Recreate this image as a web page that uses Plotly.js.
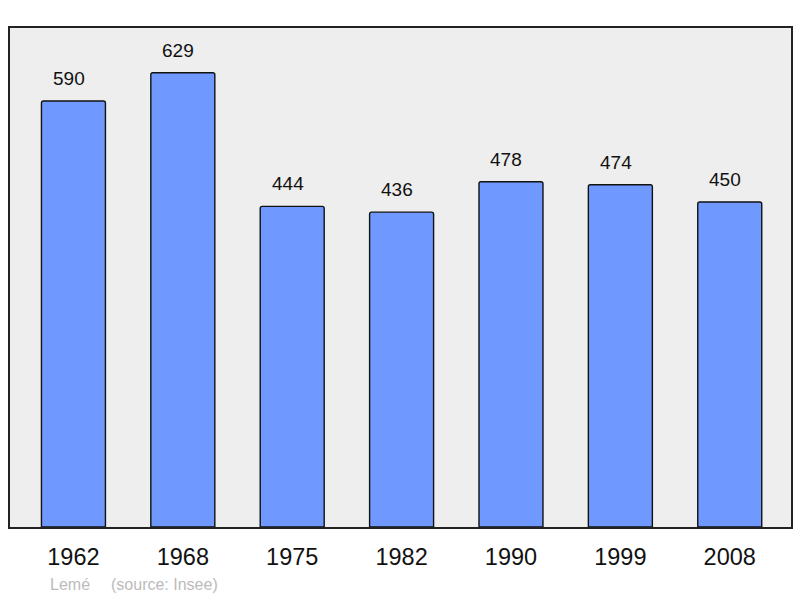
<!DOCTYPE html>
<html>
<head>
<meta charset="utf-8">
<script src="https://cdn.plot.ly/plotly-3.0.1.min.js"></script>
<style>html,body{margin:0;padding:0;background:#fff;}#chart{width:800px;height:598px;}</style>
</head>
<body>
<div id="chart"></div>
<script>
const years = ["1962", "1968", "1975", "1982", "1990", "1999", "2008"];
const population = [590, 629, 444, 436, 478, 474, 450];
const sourceCommune = "Lemé";
const sourceNote = "(source: Insee)";

const trace = {
  type: "bar",
  x: years,
  y: population,
  width: 0.585,
  text: population.map(String),
  textposition: "none",
  marker: { color: "#7099ff", line: { color: "#111111", width: 1.4 }, cornerradius: 2 },
  hoverinfo: "skip"
};

const FONT = "Liberation Sans, Arial, sans-serif";
const annotations = years.map((yr, i) => ({
  x: i, y: population[i], xref: "x", yref: "y",
  text: String(population[i]), showarrow: false,
  yanchor: "bottom", yshift: 10, xshift: -4.5,
  font: { family: FONT, size: 19, color: "#111" }
}));
annotations.push({
  xref: "paper", yref: "paper", x: (48 - 10) / 781, y: -0.095,
  xanchor: "left", yanchor: "top", showarrow: false,
  text: sourceCommune,
  font: { family: FONT, size: 16, color: "#bbbbbb" }
});
annotations.push({
  xref: "paper", yref: "paper", x: (109 - 10) / 781, y: -0.095,
  xanchor: "left", yanchor: "top", showarrow: false,
  text: sourceNote,
  font: { family: FONT, size: 16, color: "#bbbbbb" }
});

const layout = {
  width: 800, height: 598,
  margin: { l: 10, r: 9, t: 28, b: 71, pad: 0 },
  paper_bgcolor: "#ffffff",
  plot_bgcolor: "#eeeeee",
  showlegend: false,
  xaxis: {
    type: "category", range: [-0.58, 6.56],
    showline: true, mirror: true, linecolor: "#222", linewidth: 2,
    showgrid: false, zeroline: false, ticks: "", ticklen: 0,
    ticklabelstandoff: 8,
    tickfont: { family: FONT, size: 23.5, color: "#111" },
    fixedrange: true
  },
  yaxis: {
    range: [0, 691],
    showline: true, mirror: true, linecolor: "#222", linewidth: 2,
    showgrid: false, zeroline: false, showticklabels: false, ticks: "",
    fixedrange: true
  },
  annotations: annotations
};

Plotly.newPlot("chart", [trace], layout, { staticPlot: true, displayModeBar: false });
</script>
</body>
</html>
